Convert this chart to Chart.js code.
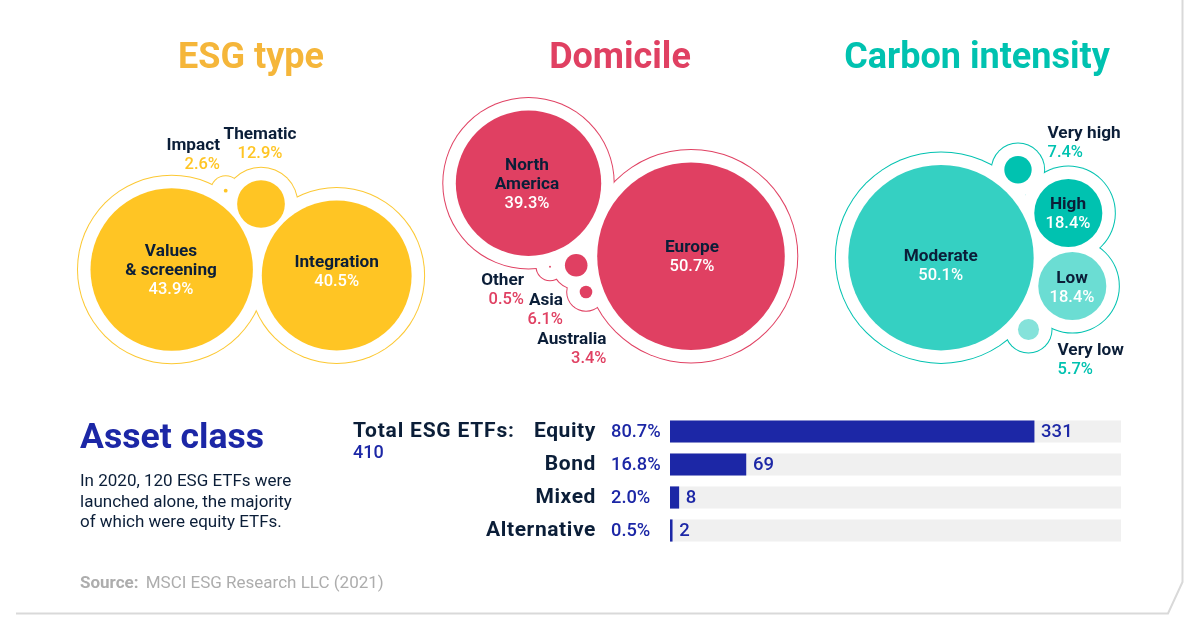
<!DOCTYPE html>
<html>
<head>
<meta charset="utf-8">
<script src="https://cdn.jsdelivr.net/npm/chart.js@4/dist/chart.umd.min.js"></script>
<style>
    html, body { margin: 0; padding: 0; background: #fff; }
    body { width: 1200px; height: 628px; position: relative; overflow: hidden; font-family: Roboto, sans-serif; }
    canvas { position: absolute; }
    .heading { position: absolute; font-weight: 700; font-size: 36px; line-height: 40px; white-space: nowrap; transform: translateX(-50%); }
    #asset-title { left: 80px; top: 416px; color: #1c27a6; transform: none; font-size: 35.6px; }
    #blurb { position: absolute; left: 80px; top: 470px; font-size: 17px; line-height: 20.7px; color: #0b1e38; }
    #total { position: absolute; left: 353px; top: 419px; font-size: 21px; line-height: 22px; font-weight: 700; color: #0b1e38; letter-spacing: 0.8px; }
    #total span { display: block; font-weight: 500; color: #1c27a6; font-size: 18px; letter-spacing: 0; }
    #source { position: absolute; left: 80px; top: 572px; font-size: 17px; line-height: 20px; color: #adadad; }
    #source b { margin-right: 3px; }
    #frame { position: absolute; left: 0; top: 0; }
</style>
</head>
<body>
<svg id="frame" width="1200" height="628"><polyline points="16,613.5 1168,613.5 1182.5,582 1182.5,0" fill="none" stroke="#d9d9d9" stroke-width="2"/></svg>
<canvas id="bubbles" width="1200" height="628" style="left:0;top:0"></canvas>
<canvas id="assets" width="790" height="132" style="left:340px;top:415px"></canvas>
<div class="heading" style="left:251px;top:36px;color:#f5b63a">ESG type</div>
<div class="heading" style="left:620px;top:36px;color:#e04062">Domicile</div>
<div class="heading" style="left:977px;top:36px;color:#00c2b0">Carbon intensity</div>
<div class="heading" id="asset-title">Asset class</div>
<div id="blurb">In 2020, 120 ESG ETFs were<br>launched alone, the majority<br>of which were equity ETFs.</div>
<div id="total">Total ESG ETFs:<span>410</span></div>
<div id="source"><b>Source:</b> MSCI ESG Research LLC (2021)</div>

<script>
// Values (percent shares)
const esgLabels = ['Values\n& screening', 'Integration', 'Thematic', 'Impact'];
const esgValues = [43.9, 40.5, 12.9, 2.6];
const domicileLabels = ['North\nAmerica', 'Europe', 'Asia', 'Australia', 'Other'];
const domicileValues = [39.3, 50.7, 6.1, 3.4, 0.5];
const carbonLabels = ['Moderate', 'High', 'Low', 'Very high', 'Very low'];
const carbonValues = [50.1, 18.4, 18.4, 7.4, 5.7];

const assetLabels = ['Equity', 'Bond', 'Mixed', 'Alternative'];
const assetShares = ['80.7%', '16.8%', '2.0%', '0.5%'];
const assetCounts = [331, 69, 8, 2];
const totalEtfs = 410;

// Bubble placement, the packing has no data meaning
const esgX = [171.7, 336.7, 261, 225.7];
const esgY = [269.5, 275.5, 204, 190.7];
const domicileX = [528.5, 691, 576.2, 586, 550];
const domicileY = [183.2, 256.2, 265.2, 292, 266.7];
const carbonX = [941, 1068.3, 1072.3, 1018, 1028.5];
const carbonY = [257.7, 213, 286, 169.7, 329.5];

const NAVY = '#0b1e38';
const BLUE = '#1c27a6';
const RADIUS_PER_POINT = 1.85;
const RING_GAP = 13;

// Impact is drawn much smaller than its share in the original
const radiusOverride = { Impact: 1.9 };

const groups = [
    {
        labels: esgLabels, values: esgValues, xs: esgX, ys: esgY, line: '#fcc832',
        fills: ['#ffc524', '#ffc524', '#ffc524', '#ffc524'], pct: '#ffc524',
        outside: {
            'Thematic': { x: 260, y: 135, align: 'center' },
            'Impact': { x: 220, y: 146, align: 'right' }
        },
        inside: { 'Values\n& screening': { x: 171, y: 251.5 }, 'Integration': { x: 336.7, y: 263 } }
    },
    {
        labels: domicileLabels, values: domicileValues, xs: domicileX, ys: domicileY, line: '#e04062',
        fills: ['#e04062', '#e04062', '#e04062', '#e04062', '#e04062'], pct: '#e04062',
        outside: {
            'Other': { x: 524, y: 281, align: 'right' },
            'Asia': { x: 563, y: 300.5, align: 'right' },
            'Australia': { x: 606.5, y: 340, align: 'right' }
        },
        inside: { 'North\nAmerica': { x: 527, y: 165.5 }, 'Europe': { x: 692, y: 247.5 } }
    },
    {
        labels: carbonLabels, values: carbonValues, xs: carbonX, ys: carbonY, line: '#00c2b0',
        fills: ['#35d0c2', '#00c2b0', '#6bddd3', '#00c2b0', '#85e2da'], pct: '#00c2b0',
        outside: {
            'Very high': { x: 1047.5, y: 133.5, align: 'left' },
            'Very low': { x: 1057.5, y: 350.5, align: 'left' }
        },
        inside: { 'Moderate': { x: 940.7, y: 256.5 }, 'High': { x: 1068, y: 205 }, 'Low': { x: 1072, y: 279 } }
    }
];

function bubblePoints(group, extra) {
    return group.labels.map((label, i) => ({
        x: group.xs[i],
        y: group.ys[i],
        r: (radiusOverride[label] || group.values[i] * RADIUS_PER_POINT) + extra
    }));
}

// The merged outline: coloured discs first, white discs over them, then the bubbles
const bubbleDatasets = [];
groups.forEach(group => {
    bubbleDatasets.push({ data: bubblePoints(group, RING_GAP + 0.5), backgroundColor: group.line, borderWidth: 0, order: 3 });
    bubbleDatasets.push({ data: bubblePoints(group, RING_GAP - 0.5), backgroundColor: '#fff', borderWidth: 0, order: 2 });
    bubbleDatasets.push({ data: bubblePoints(group, 0), backgroundColor: group.fills, borderWidth: 0, order: 1 });
});

function drawText(ctx, text, x, y, font, color, align) {
    ctx.font = font;
    ctx.fillStyle = color;
    ctx.textAlign = align;
    ctx.textBaseline = 'middle';
    ctx.fillText(text, x, y);
}

const bubbleLabelPlugin = {
    id: 'bubbleLabels',
    afterDatasetsDraw(chart) {
        const ctx = chart.ctx;
        const xScale = chart.scales.x;
        const yScale = chart.scales.y;
        const step = 19;
        ctx.save();
        groups.forEach(group => {
            group.labels.forEach((label, i) => {
                const inner = group.inside[label];
                const spot = inner || group.outside[label];
                const align = inner ? 'center' : spot.align;
                const px = xScale.getPixelForValue(spot.x);
                let py = yScale.getPixelForValue(spot.y);
                label.split('\n').forEach(line => {
                    drawText(ctx, line, px, py, '700 17.2px Roboto', NAVY, align);
                    py += step;
                });
                drawText(ctx, group.values[i].toFixed(1) + '%', px, py, '500 16.5px Roboto', inner ? '#fff' : group.pct, align);
            });
        });
        ctx.restore();
    }
};

new Chart(document.getElementById('bubbles'), {
    type: 'bubble',
    data: { datasets: bubbleDatasets },
    plugins: [bubbleLabelPlugin],
    options: {
        responsive: false,
        animation: false,
        events: [],
        clip: false,
        layout: { padding: 0, autoPadding: false },
        plugins: { legend: { display: false }, tooltip: { enabled: false } },
        scales: {
            x: { type: 'linear', min: 0, max: 1200, display: false },
            y: { type: 'linear', min: 0, max: 628, reverse: true, display: false }
        }
    }
});

const assetLabelPlugin = {
    id: 'assetLabels',
    beforeDraw(chart) {
        chart.ctx.letterSpacing = '0.6px';
    },
    afterDatasetsDraw(chart) {
        const ctx = chart.ctx;
        const xScale = chart.scales.x;
        const yScale = chart.scales.y;
        ctx.letterSpacing = '0px';
        ctx.save();
        assetLabels.forEach((label, i) => {
            const py = yScale.getPixelForValue(i) + 0.5;
            drawText(ctx, assetShares[i], xScale.left - 59, py, '500 18.3px Roboto', BLUE, 'left');
            drawText(ctx, String(assetCounts[i]), xScale.getPixelForValue(assetCounts[i]) + 7, py, '500 18.5px Roboto', BLUE, 'left');
        });
        ctx.restore();
    }
};

new Chart(document.getElementById('assets'), {
    type: 'bar',
    data: {
        labels: assetLabels,
        datasets: [
            { data: assetCounts, backgroundColor: BLUE, barThickness: 21.5, grouped: false, order: 1 },
            { data: assetLabels.map(() => totalEtfs), backgroundColor: '#f0f0f0', barThickness: 21.5, grouped: false, order: 2 }
        ]
    },
    plugins: [assetLabelPlugin],
    options: {
        indexAxis: 'y',
        responsive: false,
        animation: false,
        events: [],
        layout: { padding: { right: 9 }, autoPadding: false },
        plugins: { legend: { display: false }, tooltip: { enabled: false } },
        scales: {
            x: { min: 0, max: totalEtfs, display: false },
            y: {
                // tick padding would otherwise eat into the height of the plot
                afterFit: scale => { scale.width = 330; scale.paddingTop = 0; scale.paddingBottom = 0; },
                border: { display: false },
                grid: { display: false, drawTicks: false },
                ticks: { color: NAVY, padding: 74, font: { family: 'Roboto', size: 21, weight: '700' } }
            }
        }
    }
});
</script>
</body>
</html>
